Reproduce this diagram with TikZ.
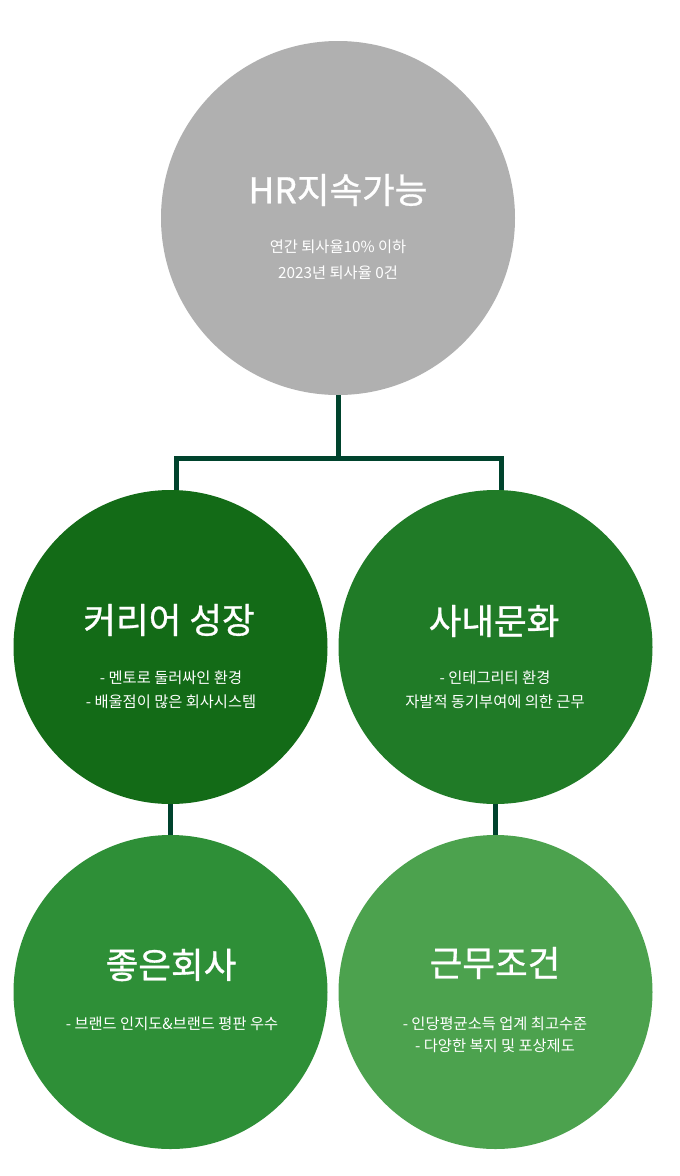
\documentclass[tikz,border=0pt]{standalone}
\usepackage{fontspec}
\setmainfont{Noto Sans CJK KR}
\newfontfamily\kr{Noto Sans CJK KR}
\newfontfamily\krt[FakeBold=0.8]{Noto Sans CJK KR}
\definecolor{topgray}{HTML}{B0B0B0}
\definecolor{gA}{HTML}{136B17}
\definecolor{gB}{HTML}{207B27}
\definecolor{gC}{HTML}{2E8F37}
\definecolor{gD}{HTML}{4CA24E}
\definecolor{linkc}{HTML}{00432D}
\begin{document}
\begin{tikzpicture}[x=1pt,y=-1pt,
  circ/.style={circle,inner sep=0pt,minimum size=#1},
  ttl/.style={text=white,font=\krt\fontsize{35.5}{40}\selectfont,inner sep=0pt,anchor=center},
  sub/.style={text=white,font=\kr\fontsize{15.3}{24}\selectfont,inner sep=0pt,anchor=center,align=center},
  link/.style={draw=linkc,line width=5pt}]
\useasboundingbox (0,0) rectangle (680,1176);
\fill[white] (0,0) rectangle (680,1176);
% circles
\node[circ=354pt,fill=topgray] (top) at (338,218) {};
\node[circ=314pt,fill=gA] (career) at (170.5,647) {};
\node[circ=314pt,fill=gB] (culture) at (495.5,647) {};
\node[circ=314pt,fill=gC] (company) at (170.5,992) {};
\node[circ=314pt,fill=gD] (cond) at (495.5,992) {};
% connectors
\coordinate (j) at (338,458);
\coordinate (jl) at (176,458);
\coordinate (jr) at (501,458);
\draw[link] (top.south) -- (j);
\draw[link] (176,490) -- (jl) -- (jr) -- (501,490);
\draw[link] (career.south) -- (company.north);
\draw[link] (culture.south) -- (cond.north);
% texts
\node[ttl] (t0) at (338,190) {HR지속가능};
\node[sub] (s0a) at (338,247) {연간 퇴사율10\% 이하};
\node[sub] (s0b) at (338,273) {2023년 퇴사율 0건};
\node[ttl] (t1) at (169,620) {커리어 성장};
\node[sub] (s1a) at (171,678) {- 멘토로 둘러싸인 환경};
\node[sub] (s1b) at (171,702) {- 배울점이 많은 회사시스템};
\node[ttl] (t2) at (494,621) {사내문화};
\node[sub] (s2a) at (495,678) {- 인테그리티 환경};
\node[sub] (s2b) at (495,702) {자발적 동기부여에 의한 근무};
\node[ttl] (t3) at (171,965) {좋은회사};
\node[sub] (s3a) at (172,1024) {- 브랜드 인지도\&브랜드 평판 우수};
\node[ttl] (t4) at (495,963) {근무조건};
\node[sub] (s4a) at (495,1024) {- 인당평균소득 업계 최고수준};
\node[sub] (s4b) at (495,1046) {- 다양한 복지 및 포상제도};
\end{tikzpicture}
\end{document}
